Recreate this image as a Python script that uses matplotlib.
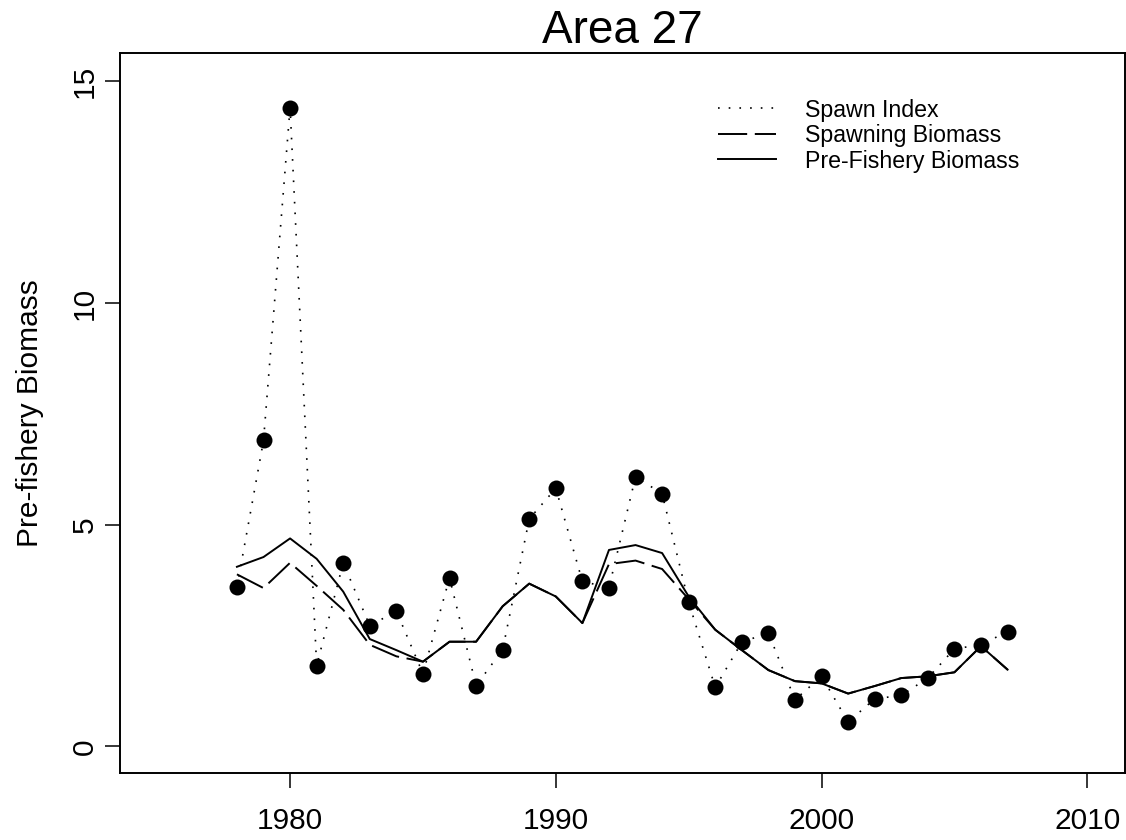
import numpy as np
import matplotlib
matplotlib.use("Agg")
import matplotlib.pyplot as plt

plt.rcParams['font.family'] = ['Liberation Sans', 'DejaVu Sans']
plt.rcParams['lines.scale_dashes'] = False

years = np.arange(1978, 2008)

spawn_index = [3.59, 6.90, 14.41, 1.82, 4.14, 2.72, 3.05, 1.64, 3.80, 1.37,
               2.18, 5.13, 5.82, 3.72, 3.58, 6.08, 5.70, 3.25, 1.33, 2.35,
               2.56, 1.05, 1.58, 0.55, 1.07, 1.15, 1.54, 2.20, 2.29, 2.59]

spawning_biomass = [3.88, 3.57, 4.14, 3.62, 3.08, 2.29, 2.03, 1.91, 2.36, 2.36,
                    3.16, 3.67, 3.38, 2.78, 4.11, 4.19, 4.00, 3.32, 2.63, 2.17,
                    1.72, 1.47, 1.42, 1.19, 1.36, 1.54, 1.58, 1.67, 2.26, 1.73]

prefishery_biomass = [4.05, 4.27, 4.69, 4.23, 3.49, 2.42, 2.17, 1.91, 2.36, 2.36,
                      3.16, 3.67, 3.38, 2.78, 4.43, 4.54, 4.36, 3.38, 2.63, 2.17,
                      1.72, 1.47, 1.42, 1.19, 1.36, 1.54, 1.58, 1.67, 2.26, 1.73]

fig = plt.figure(figsize=(11.26, 8.4), dpi=100)
ax = fig.add_axes([120 / 1126, 67 / 840, 1004.5 / 1126, 720 / 840])

ax.plot(years, spawn_index, color='black', lw=1.2, linestyle=(0, (1.2, 6.5)),
        marker='o', ms=11.5, markeredgewidth=0, label='Spawn Index')
ax.plot(years, spawning_biomass, color='black', lw=1.4, linestyle=(0, (21, 5.5)),
        label='Spawning Biomass')
ax.plot(years, prefishery_biomass, color='black', lw=1.4, linestyle='-',
        label='Pre-Fishery Biomass')

ax.set_xlim(1973.6, 2011.4)
ax.set_ylim(-0.6016, 15.64)
ax.set_xticks([1980, 1990, 2000, 2010])
ax.set_yticks([0, 5, 10, 15])

for s in ax.spines.values():
    s.set_linewidth(1.4)
ax.tick_params(length=10.8, width=1.1, labelsize=21.5)
ax.tick_params(axis='x', pad=13.7)
ax.tick_params(axis='y', pad=4.3, labelrotation=90)
for lab in ax.get_yticklabels():
    lab.set_va('center')

ax.set_ylabel('Pre-fishery Biomass', fontsize=21.5)
ax.yaxis.set_label_coords(-0.0756, 0.5)
ax.set_title('Area 27', fontsize=33, pad=5.8)

handles, labels = ax.get_legend_handles_labels()
leg = ax.legend(handles, labels, loc='upper left', frameon=False, fontsize=16.7,
                handlelength=2.5, handletextpad=1.25, labelspacing=0.11,
                borderpad=0, borderaxespad=0,
                bbox_to_anchor=(718 / 1126, 1 - 98.5 / 840),
                bbox_transform=fig.transFigure)
for h in leg.get_lines():
    h.set_marker('')

fig.savefig('out.png', dpi=100)
